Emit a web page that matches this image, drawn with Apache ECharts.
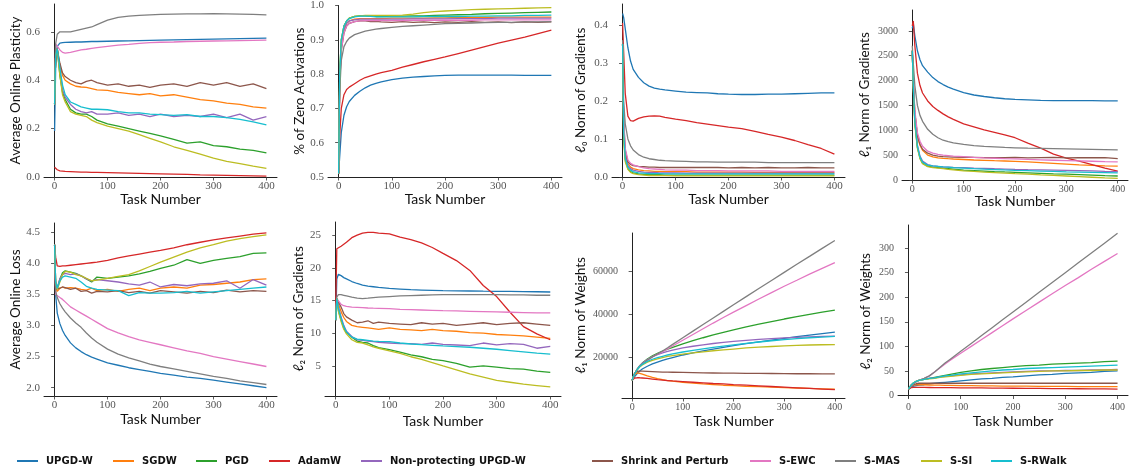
<!DOCTYPE html>
<html><head><meta charset="utf-8">
<script src="https://cdn.jsdelivr.net/npm/echarts@6/dist/echarts.min.js"></script>
<style>html,body{margin:0;padding:0;background:#fff}#c{width:1129px;height:476px}</style>
</head><body><div id="c"></div><script>
const tasks = [0, 2, 5, 10, 15, 20, 30, 40, 50, 60, 70, 80, 100, 120, 140, 160, 180, 200, 225, 250, 275, 300, 325, 350, 375, 400];
const methods = ['UPGD-W','SGDW','PGD','AdamW','Non-protecting UPGD-W','Shrink and Perturb','S-EWC','S-MAS','S-SI','S-RWalk'];
const colors = ['#1f77b4','#ff7f0e','#2ca02c','#d62728','#9467bd','#8c564b','#e377c2','#7f7f7f','#bcbd22','#17becf'];

// Average Online Plasticity
const plasticity = [
 [0.19,0.45,0.54,0.553,0.555,0.556,0.557,0.558,0.558,0.559,0.56,0.56,0.561,0.562,0.563,0.564,0.565,0.566,0.567,0.568,0.569,0.57,0.571,0.572,0.573,0.574],
 [0.30,0.50,0.53,0.46,0.42,0.40,0.385,0.375,0.372,0.37,0.365,0.36,0.358,0.35,0.345,0.34,0.345,0.335,0.34,0.33,0.32,0.315,0.305,0.30,0.29,0.285],
 [0.30,0.50,0.53,0.42,0.35,0.32,0.28,0.265,0.26,0.26,0.25,0.235,0.22,0.21,0.2,0.19,0.18,0.17,0.155,0.14,0.145,0.13,0.125,0.115,0.11,0.10],
 [0.04,0.035,0.03,0.025,0.024,0.023,0.022,0.021,0.02,0.02,0.019,0.019,0.018,0.017,0.016,0.015,0.014,0.013,0.012,0.011,0.009,0.008,0.007,0.006,0.005,0.004],
 [0.30,0.50,0.53,0.44,0.36,0.33,0.30,0.28,0.27,0.265,0.27,0.26,0.26,0.265,0.255,0.26,0.25,0.26,0.25,0.255,0.25,0.26,0.245,0.26,0.235,0.25],
 [0.30,0.50,0.53,0.47,0.43,0.415,0.40,0.39,0.385,0.395,0.40,0.39,0.38,0.385,0.375,0.38,0.37,0.38,0.385,0.375,0.39,0.38,0.39,0.375,0.385,0.365],
 [0.30,0.55,0.545,0.525,0.515,0.512,0.515,0.52,0.525,0.528,0.532,0.535,0.54,0.545,0.548,0.552,0.555,0.557,0.558,0.56,0.561,0.562,0.563,0.564,0.565,0.566],
 [0.30,0.55,0.59,0.60,0.60,0.60,0.60,0.605,0.61,0.615,0.62,0.63,0.648,0.66,0.665,0.668,0.67,0.672,0.673,0.674,0.674,0.675,0.674,0.673,0.672,0.67],
 [0.30,0.50,0.53,0.42,0.34,0.31,0.27,0.26,0.255,0.25,0.235,0.225,0.21,0.2,0.19,0.175,0.16,0.145,0.125,0.11,0.095,0.078,0.065,0.055,0.045,0.036],
 [0.30,0.50,0.53,0.45,0.38,0.34,0.31,0.30,0.29,0.285,0.28,0.28,0.278,0.27,0.265,0.265,0.26,0.258,0.255,0.258,0.25,0.25,0.245,0.238,0.228,0.215]
];
// % of Zero Activations
const zeroActivations = [
 [0.51,0.56,0.63,0.68,0.705,0.72,0.738,0.75,0.76,0.768,0.773,0.777,0.784,0.788,0.791,0.793,0.795,0.796,0.797,0.797,0.797,0.797,0.797,0.796,0.796,0.796],
 [0.51,0.78,0.88,0.93,0.948,0.955,0.96,0.962,0.962,0.962,0.962,0.962,0.963,0.963,0.963,0.963,0.964,0.964,0.965,0.965,0.965,0.966,0.966,0.966,0.966,0.966],
 [0.51,0.8,0.9,0.94,0.955,0.963,0.968,0.97,0.97,0.969,0.968,0.968,0.969,0.969,0.97,0.97,0.971,0.972,0.973,0.974,0.976,0.977,0.978,0.979,0.98,0.981],
 [0.51,0.62,0.7,0.74,0.755,0.762,0.772,0.782,0.79,0.795,0.8,0.804,0.811,0.82,0.828,0.836,0.843,0.85,0.86,0.87,0.88,0.89,0.899,0.908,0.918,0.928],
 [0.51,0.78,0.88,0.93,0.948,0.955,0.958,0.96,0.96,0.96,0.96,0.96,0.96,0.96,0.961,0.961,0.961,0.961,0.962,0.962,0.962,0.963,0.963,0.963,0.963,0.963],
 [0.51,0.77,0.87,0.92,0.94,0.948,0.953,0.955,0.955,0.953,0.954,0.952,0.951,0.953,0.951,0.952,0.95,0.952,0.951,0.953,0.951,0.952,0.95,0.952,0.951,0.952],
 [0.51,0.77,0.87,0.92,0.94,0.948,0.953,0.955,0.956,0.956,0.956,0.956,0.956,0.956,0.957,0.957,0.957,0.957,0.957,0.957,0.958,0.958,0.958,0.958,0.958,0.958],
 [0.6,0.75,0.84,0.88,0.895,0.905,0.915,0.92,0.925,0.928,0.931,0.933,0.936,0.939,0.941,0.943,0.945,0.947,0.948,0.949,0.95,0.951,0.951,0.952,0.952,0.953],
 [0.51,0.8,0.9,0.94,0.955,0.963,0.968,0.97,0.971,0.971,0.971,0.971,0.971,0.972,0.975,0.979,0.982,0.984,0.986,0.988,0.989,0.99,0.991,0.992,0.993,0.994],
 [0.51,0.8,0.9,0.94,0.955,0.962,0.967,0.969,0.969,0.968,0.967,0.967,0.967,0.967,0.967,0.968,0.968,0.968,0.968,0.969,0.969,0.97,0.97,0.971,0.971,0.972]
];
// l0 Norm of Gradients
const l0Grad = [
 [0.43,0.42,0.39,0.34,0.305,0.283,0.262,0.248,0.239,0.234,0.231,0.229,0.226,0.223,0.222,0.221,0.219,0.218,0.217,0.217,0.218,0.218,0.219,0.22,0.221,0.221],
 [0.35,0.14,0.06,0.035,0.026,0.022,0.019,0.017,0.016,0.015,0.015,0.014,0.014,0.014,0.013,0.013,0.013,0.013,0.013,0.012,0.012,0.012,0.012,0.012,0.012,0.012],
 [0.35,0.11,0.045,0.022,0.014,0.011,0.008,0.007,0.006,0.006,0.006,0.005,0.005,0.005,0.005,0.005,0.005,0.005,0.005,0.005,0.005,0.005,0.005,0.005,0.005,0.005],
 [0.405,0.33,0.22,0.16,0.148,0.147,0.154,0.158,0.16,0.161,0.16,0.157,0.152,0.148,0.143,0.139,0.135,0.131,0.127,0.12,0.112,0.105,0.096,0.085,0.075,0.06],
 [0.35,0.13,0.055,0.03,0.022,0.018,0.015,0.013,0.012,0.012,0.011,0.011,0.011,0.01,0.01,0.01,0.01,0.01,0.01,0.01,0.01,0.01,0.01,0.01,0.01,0.01],
 [0.35,0.15,0.07,0.04,0.033,0.03,0.028,0.027,0.026,0.026,0.025,0.025,0.025,0.025,0.025,0.025,0.025,0.024,0.025,0.024,0.025,0.024,0.024,0.025,0.024,0.024],
 [0.35,0.16,0.075,0.045,0.036,0.032,0.027,0.024,0.022,0.021,0.02,0.019,0.018,0.018,0.017,0.017,0.017,0.016,0.016,0.016,0.016,0.015,0.015,0.015,0.015,0.015],
 [0.36,0.2,0.14,0.1,0.082,0.071,0.059,0.052,0.048,0.046,0.044,0.043,0.042,0.041,0.04,0.04,0.039,0.039,0.039,0.039,0.038,0.038,0.038,0.038,0.038,0.038],
 [0.35,0.1,0.04,0.02,0.012,0.009,0.006,0.005,0.004,0.004,0.004,0.004,0.003,0.003,0.003,0.003,0.003,0.003,0.003,0.003,0.003,0.003,0.003,0.003,0.003,0.003],
 [0.35,0.12,0.05,0.026,0.018,0.014,0.011,0.01,0.009,0.009,0.009,0.008,0.008,0.008,0.008,0.008,0.008,0.008,0.008,0.008,0.008,0.008,0.008,0.008,0.008,0.008]
];
// l1 Norm of Gradients
const l1Grad = [
 [3050,3150,2900,2600,2420,2300,2170,2060,1980,1920,1870,1830,1760,1710,1680,1655,1635,1620,1610,1600,1595,1595,1595,1595,1590,1590],
 [2600,1950,1350,880,700,600,500,465,445,435,428,422,412,402,395,388,382,376,365,350,335,320,305,295,285,278],
 [2600,1850,1150,650,440,340,280,260,250,240,230,220,200,190,180,170,162,155,145,135,125,118,108,98,88,80],
 [3100,3200,2700,2150,1900,1750,1590,1480,1400,1330,1270,1220,1130,1070,1010,960,910,850,740,640,520,440,380,310,240,180],
 [2600,1900,1200,700,480,380,310,285,272,265,260,255,248,240,233,226,220,214,208,203,198,193,188,182,175,170],
 [2600,1950,1350,900,720,620,540,500,480,470,465,460,458,455,450,452,448,455,445,450,455,445,452,448,450,430],
 [2600,2000,1400,950,780,680,580,540,515,500,490,480,470,455,445,438,430,423,413,405,397,390,383,377,370,365],
 [2700,2350,1900,1500,1300,1180,1020,920,850,800,770,745,715,690,675,665,655,648,640,635,630,625,620,615,610,605],
 [2600,1850,1120,640,430,330,270,250,240,228,215,205,185,172,160,150,140,130,118,104,92,80,68,55,42,32],
 [2600,1900,1180,680,460,360,300,285,275,265,258,250,240,228,218,210,202,195,188,180,172,165,160,155,150,145]
];
// Average Online Loss
const onlineLoss = [
 [4.3,3.5,3.2,3.03,2.92,2.84,2.72,2.64,2.58,2.53,2.49,2.46,2.4,2.36,2.32,2.29,2.26,2.23,2.2,2.17,2.15,2.12,2.09,2.06,2.03,2.0],
 [4.3,3.6,3.55,3.6,3.62,3.6,3.61,3.6,3.58,3.57,3.6,3.56,3.58,3.55,3.58,3.6,3.56,3.6,3.62,3.6,3.65,3.66,3.68,3.7,3.74,3.75],
 [4.3,3.7,3.6,3.75,3.85,3.88,3.86,3.84,3.8,3.75,3.7,3.78,3.76,3.78,3.8,3.83,3.87,3.92,3.97,4.06,4.0,4.05,4.08,4.11,4.16,4.17],
 [4.3,4.1,3.96,3.95,3.96,3.96,3.97,3.98,3.99,4.0,4.01,4.02,4.05,4.09,4.12,4.15,4.18,4.21,4.25,4.3,4.34,4.38,4.41,4.44,4.47,4.49],
 [4.3,3.7,3.6,3.75,3.82,3.84,3.82,3.83,3.8,3.75,3.72,3.74,3.72,3.7,3.67,3.65,3.7,3.62,3.66,3.64,3.67,3.68,3.72,3.6,3.74,3.65],
 [4.3,3.58,3.55,3.6,3.62,3.61,3.58,3.6,3.55,3.56,3.52,3.55,3.54,3.56,3.53,3.55,3.52,3.56,3.54,3.52,3.55,3.53,3.57,3.54,3.56,3.55],
 [4.3,3.5,3.48,3.45,3.42,3.38,3.3,3.25,3.2,3.15,3.1,3.05,2.95,2.88,2.82,2.77,2.73,2.69,2.64,2.59,2.55,2.5,2.46,2.42,2.38,2.34],
 [4.3,3.55,3.45,3.35,3.28,3.22,3.12,3.04,2.97,2.88,2.8,2.73,2.62,2.54,2.48,2.43,2.38,2.34,2.3,2.26,2.22,2.18,2.15,2.11,2.08,2.05],
 [4.3,3.7,3.58,3.7,3.82,3.87,3.86,3.82,3.8,3.76,3.72,3.73,3.76,3.79,3.82,3.88,3.95,4.02,4.1,4.18,4.25,4.3,4.36,4.4,4.43,4.46],
 [4.3,3.7,3.6,3.72,3.78,3.8,3.78,3.76,3.7,3.63,3.6,3.58,3.57,3.56,3.48,3.53,3.52,3.52,3.53,3.55,3.52,3.54,3.56,3.58,3.6,3.62]
];
// l2 Norm of Gradients
const l2Grad = [
 [12,18.3,19.0,18.8,18.5,18.3,17.9,17.6,17.35,17.2,17.1,17.0,16.85,16.75,16.65,16.6,16.55,16.5,16.48,16.45,16.42,16.4,16.38,16.36,16.34,16.3],
 [12,15.3,14.5,13.3,12.4,11.8,11.2,11.0,10.9,10.8,10.7,10.6,10.8,10.6,10.5,10.4,10.6,10.4,10.3,10.1,10.0,9.8,9.7,9.6,9.4,9.2],
 [12,15.3,13.5,12.0,10.8,10.1,9.4,8.8,8.6,8.5,8.1,7.8,7.5,7.1,6.7,6.4,6.0,5.8,5.4,4.8,5.0,4.8,4.6,4.5,4.2,4.0],
 [14,22.9,23.0,23.3,23.6,23.9,24.6,25.0,25.3,25.4,25.4,25.3,25.2,24.7,24.3,23.8,23.1,22.2,21.1,19.6,17.3,15.6,13.2,11.0,9.9,9.0],
 [12,15.3,14.0,12.5,11.2,10.3,9.5,9.0,8.9,8.8,8.7,8.6,8.5,8.4,8.4,8.3,8.5,8.3,8.2,8.1,8.5,8.2,8.4,8.3,7.7,8.0],
 [12,15.3,14.8,14.0,13.0,12.5,12.0,11.6,11.7,11.9,11.5,11.7,11.5,11.4,11.3,11.6,11.4,11.5,11.2,11.4,11.6,11.3,11.5,11.6,11.4,11.2],
 [12,15.3,15.0,14.4,14.2,14.1,14.0,13.95,13.9,13.85,13.82,13.8,13.75,13.65,13.6,13.55,13.5,13.45,13.4,13.35,13.3,13.25,13.2,13.15,13.1,13.1],
 [12,15.5,15.9,15.9,15.8,15.7,15.5,15.35,15.3,15.35,15.45,15.5,15.6,15.7,15.75,15.8,15.85,15.9,15.9,15.9,15.9,15.9,15.85,15.85,15.8,15.8],
 [12,15.3,13.3,11.8,10.6,9.9,9.0,8.6,8.5,8.2,7.9,7.7,7.3,6.9,6.4,6.0,5.5,5.0,4.4,3.8,3.3,2.8,2.5,2.2,2.0,1.8],
 [12,15.3,13.8,12.3,11.0,10.2,9.4,9.1,9.0,8.9,8.8,8.75,8.7,8.5,8.35,8.25,8.15,8.05,7.95,7.85,7.7,7.55,7.35,7.15,6.95,6.8]
];
// l1 Norm of Weights
const l1Weights = [
 [9000,9800,10800,12200,13400,14300,15600,16700,17600,18400,19100,19700,20900,21900,22800,23700,24500,25300,26200,27100,27900,28700,29500,30200,30900,31600],
 [9000,10500,11800,12500,12300,11900,11100,10400,9800,9300,8900,8600,8100,7700,7300,7000,6700,6500,6200,6000,5800,5600,5400,5200,5000,4800],
 [9000,10500,12200,14300,15900,17100,19000,20500,21700,22700,23600,24500,26100,27600,29000,30300,31500,32700,34100,35400,36600,37800,38900,40000,41000,42000],
 [9000,9800,10100,10200,10200,10100,9900,9600,9300,9100,8900,8700,8400,8100,7800,7500,7300,7000,6700,6400,6100,5800,5500,5200,4900,4600],
 [9000,10500,12200,14300,15800,17000,18800,20100,21100,21900,22600,23200,24200,25000,25700,26300,26800,27300,27800,28200,28600,28900,29200,29400,29600,29800],
 [9000,10800,12400,13200,13300,13300,13200,13100,13000,12900,12850,12800,12700,12600,12500,12450,12400,12350,12300,12250,12200,12150,12100,12100,12050,12000],
 [9000,10500,12000,14000,15500,16700,18500,20000,21300,22500,23800,25100,27800,30500,33200,35900,38500,41000,44100,47200,50200,53200,56000,58900,61600,64300],
 [9000,10500,12000,14000,15500,16700,18500,20000,21400,22800,24300,25900,29000,32100,35200,38300,41400,44500,48300,52100,55900,59700,63500,67200,71000,74700],
 [9000,10500,12100,14000,15300,16200,17500,18400,19100,19700,20200,20600,21300,21900,22400,22900,23300,23700,24200,24600,24900,25200,25400,25600,25700,25800],
 [9000,10500,12100,14100,15500,16500,17900,18900,19700,20300,20900,21400,22300,23100,23800,24500,25100,25700,26400,27000,27600,28100,28600,29000,29300,29600]
];
// l2 Norm of Weights
const l2Weights = [
 [13,15,17,19,20,21,22,24,25,26,27,28,30,32,34,35,37,38,40,42,43,45,46,47,49,50],
 [13,16,19,21,22,22,22,21.5,21,21,20.5,20.5,20,20,19.5,19.5,19,19,19,18.5,18.5,18.5,18,18,18,18],
 [13,17,21,26,29,31,33,35,37,39,41,43,47,50,53,55,57,59,61,62,64,65,66,67,69,70],
 [13,15,16,16.5,16.5,16.5,16.5,16.4,16.3,16.2,16.1,16,15.8,15.6,15.4,15.2,15,14.8,14.6,14.4,14.2,14,13.8,13.6,13.4,13.2],
 [13,17,21,26,29,31,33,35,36,38,39,40,42,44,45,46,47,48,49,50,50,51,51,52,52,53],
 [13,16,19,22,24,25,25,25,25,25,25,25,25,25,25,25,25,25,25,25,25,25,25,25,25,25],
 [13,16,19,24,28,31,35,40,48,56,64,72,86,100,114,128,142,156,173,190,207,224,240,257,273,289],
 [13,16,19,24,28,31,35,40,48,57,66,74,90,106,122,138,154,170,190,210,230,250,270,290,310,330],
 [13,17,21,26,29,31,33,34,35,37,38,39,41,43,44,45,46,47,48,49,50,50,51,51,52,52],
 [13,17,21,26,29,31,33,35,36,38,40,41,44,46,48,50,52,53,55,56,57,58,59,60,61,62]
];

const xTicks = [0, 100, 200, 300, 400];
const plasticityTicks = [0.0, 0.2, 0.4, 0.6];
const zeroActTicks = [0.5, 0.6, 0.7, 0.8, 0.9, 1.0];
const l0GradTicks = [0.0, 0.1, 0.2, 0.3, 0.4];
const l1GradTicks = [0, 500, 1000, 1500, 2000, 2500, 3000];
const lossTicks = [2.0, 2.5, 3.0, 3.5, 4.0, 4.5];
const l2GradTicks = [5, 10, 15, 20, 25];
const l1WeightTicks = [20000, 40000, 60000];
const l2WeightTicks = [0, 50, 100, 150, 200, 250, 300];

const panels = [
 {d: plasticity, name: 'Average Online Plasticity', t: plasticityTicks, min: 0, max: 0.715, dec: 1, g: {left: 44, top: 4, width: 233, height: 173}, ng: 19, xg: 15, fs: 11},
 {d: zeroActivations, name: '% of Zero Activations', t: zeroActTicks, min: 0.5, max: 1.0, dec: 1, g: {left: 328, top: 4, width: 234, height: 173}, ng: 20, xg: 15, fs: 11},
 {d: l0Grad, name: 'ℓ₀ Norm of Gradients', t: l0GradTicks, min: 0, max: 0.455, dec: 1, g: {left: 612, top: 4, width: 233, height: 173}, ng: 24, xg: 15, fs: 11},
 {d: l1Grad, name: 'ℓ₁ Norm of Gradients', t: l1GradTicks, min: 0, max: 3420, dec: 0, g: {left: 902, top: 10, width: 226, height: 170}, ng: 30, xg: 14, fs: 10},
 {d: onlineLoss, name: 'Average Online Loss', t: lossTicks, min: 1.865, max: 4.65, dec: 1, g: {left: 44, top: 223, width: 233, height: 173}, ng: 21, xg: 16, fs: 11},
 {d: l2Grad, name: 'ℓ₂ Norm of Gradients', t: l2GradTicks, min: 0.4, max: 27.0, dec: 0, g: {left: 325, top: 222, width: 236, height: 174}, ng: 19, xg: 18, fs: 11},
 {d: l1Weights, name: 'ℓ₁ Norm of Weights', t: l1WeightTicks, min: 700, max: 78200, dec: 0, g: {left: 622, top: 233, width: 223, height: 165}, ng: 34, xg: 16, fs: 10},
 {d: l2Weights, name: 'ℓ₂ Norm of Weights', t: l2WeightTicks, min: -5, max: 347, dec: 0, g: {left: 898, top: 225, width: 230, height: 173}, ng: 25, xg: 16, fs: 10}
];

const legendX = [17, 113, 196, 269, 361, 592, 750, 835, 921, 991];

const grid = [], xAxis = [], yAxis = [], series = [];
panels.forEach((p, i) => {
  grid.push(Object.assign({containLabel: false}, p.g));
  const common = {
    axisLine: {show: true, lineStyle: {color: '#222', width: 1}},
    axisTick: {show: true, length: 3.5, lineStyle: {color: '#333', width: 0.8}},
    splitLine: {show: false},
    nameTextStyle: {fontFamily: 'Lato', fontSize: 14, color: '#111'}
  };
  xAxis.push(Object.assign({}, common, {
    type: 'value', gridIndex: i, min: -20, max: 420,
    name: 'Task Number', nameLocation: 'middle', nameGap: p.xg,
    axisTick: Object.assign({}, common.axisTick, {customValues: xTicks}),
    axisLabel: {customValues: xTicks, fontFamily: 'Liberation Serif', fontSize: p.fs, color: '#555', margin: 4}
  }));
  yAxis.push(Object.assign({}, common, {
    type: 'value', gridIndex: i, min: p.min, max: p.max,
    name: p.name, nameLocation: 'middle', nameGap: p.ng,
    nameTextStyle: {fontFamily: 'Lato', fontSize: 13.5, color: '#111'},
    axisTick: Object.assign({}, common.axisTick, {customValues: p.t}),
    axisLabel: {customValues: p.t, fontFamily: 'Liberation Serif', fontSize: p.fs, color: '#555', margin: 4,
      formatter: v => p.dec ? Number(v).toFixed(p.dec) : String(Math.round(v))}
  }));
  p.d.forEach((vals, k) => {
    series.push({
      type: 'line', name: methods[k], xAxisIndex: i, yAxisIndex: i,
      data: tasks.map((t, j) => [t, vals[j]]),
      showSymbol: false, symbol: 'none', smooth: false,
      lineStyle: {width: 1.3, color: colors[k]}, itemStyle: {color: colors[k]},
      emphasis: {disabled: true}, animation: false
    });
  });
});

const legend = methods.map((m, i) => ({
  data: [m], left: legendX[i], top: 456, padding: 0, icon: 'rect', itemWidth: 21, itemHeight: 2,
  selectedMode: false,
  textStyle: {fontFamily: 'DejaVu Sans', fontWeight: 'bold', fontSize: 10, color: '#111', padding: [0, 0, 0, 3]}
}));

const chart = echarts.init(document.getElementById('c'), null, {renderer: 'canvas'});
chart.setOption({backgroundColor: '#fff', animation: false, grid, xAxis, yAxis, series, legend, color: colors});
</script></body></html>
